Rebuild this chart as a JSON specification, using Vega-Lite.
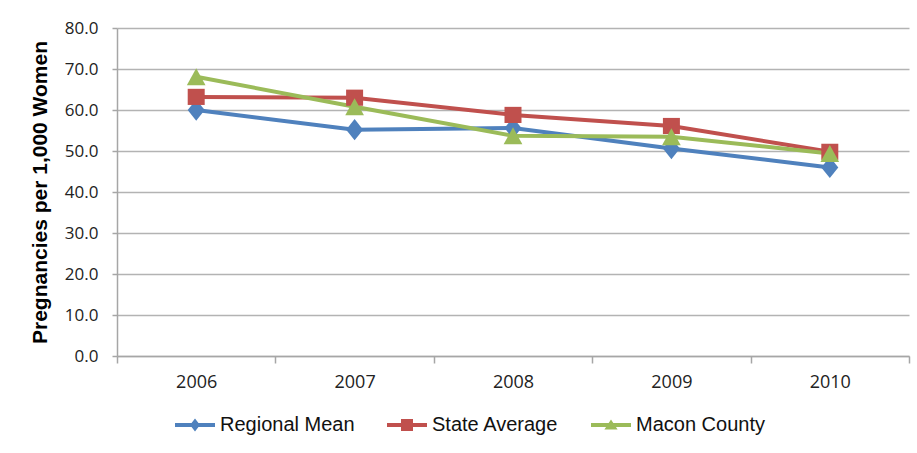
{
  "$schema": "https://vega.github.io/schema/vega-lite/v6.json",
  "autosize": {"type": "none"},
  "width": 792,
  "height": 328,
  "padding": {"left": 117, "top": 28, "right": 8, "bottom": 97},
  "background": "white",
  "config": {
    "view": {"stroke": null},
    "font": "Liberation Sans"
  },
  "data": {
    "values": [
      {"year": "2006", "series": "Regional Mean", "value": 60.0},
      {"year": "2007", "series": "Regional Mean", "value": 55.2},
      {"year": "2008", "series": "Regional Mean", "value": 55.6},
      {"year": "2009", "series": "Regional Mean", "value": 50.6},
      {"year": "2010", "series": "Regional Mean", "value": 46.0},
      {"year": "2006", "series": "State Average", "value": 63.2},
      {"year": "2007", "series": "State Average", "value": 63.0},
      {"year": "2008", "series": "State Average", "value": 58.8},
      {"year": "2009", "series": "State Average", "value": 56.1},
      {"year": "2010", "series": "State Average", "value": 49.8},
      {"year": "2006", "series": "Macon County", "value": 68.1},
      {"year": "2007", "series": "Macon County", "value": 60.8},
      {"year": "2008", "series": "Macon County", "value": 53.7},
      {"year": "2009", "series": "Macon County", "value": 53.5},
      {"year": "2010", "series": "Macon County", "value": 49.4}
    ]
  },
  "encoding": {
    "x": {
      "field": "year", "type": "ordinal",
      "scale": {"type": "band", "paddingInner": 0, "paddingOuter": 0},
      "axis": {
        "title": null, "labelAngle": 0, "tickBand": "extent",
        "domainColor": "#A6A6A6", "domainWidth": 1.5,
        "tickColor": "#A6A6A6", "tickSize": 7, "tickWidth": 1.5,
        "labelFont": "Open Sans", "labelFontSize": 18, "labelColor": "#222222",
        "labelPadding": 10, "grid": false
      }
    },
    "y": {
      "field": "value", "type": "quantitative",
      "scale": {"domain": [0, 80], "nice": false},
      "axis": {
        "title": "Pregnancies per 1,000 Women",
        "titleFont": "Liberation Sans", "titleFontSize": 21, "titleFontWeight": "bold",
        "titleColor": "#000000", "titlePadding": 14,
        "values": [0, 10, 20, 30, 40, 50, 60, 70, 80], "format": ".1f",
        "labelFont": "Open Sans", "labelFontSize": 17, "labelColor": "#222222",
        "labelPadding": 14,
        "domainColor": "#A6A6A6", "domainWidth": 1.5,
        "tickColor": "#A6A6A6", "tickSize": 5, "tickWidth": 1.5,
        "grid": true, "gridColor": "#B3B3B3", "gridWidth": 1.5
      }
    },
    "color": {
      "field": "series", "type": "nominal",
      "sort": ["Regional Mean", "State Average", "Macon County"],
      "scale": {
        "domain": ["Regional Mean", "State Average", "Macon County"],
        "range": ["#4F81BD", "#C0504D", "#9BBB59"]
      },
      "legend": {
        "title": null, "orient": "none", "direction": "horizontal",
        "legendX": 58, "legendY": 377,
        "symbolSize": 1600, "labelOffset": 5, "columnPadding": 32,
        "labelFont": "Liberation Sans", "labelFontSize": 20, "labelColor": "#111111",
        "labelLimit": 300,
        "encode": {
          "symbols": {
            "update": {
              "shape": {"signal": "datum.value === 'Regional Mean' ? 'M-1,-0.1H1V0.1H-1Z M0,-0.33L0.25,0L0,0.33L-0.25,0Z' : datum.value === 'State Average' ? 'M-1,-0.1H1V0.1H-1Z M-0.3,-0.3H0.3V0.3H-0.3Z' : 'M-1,-0.1H1V0.1H-1Z M0,-0.28L0.33,0.22H-0.33Z'"},
              "fill": {"signal": "scale('color', datum.value)"},
              "fillOpacity": {"value": 1},
              "opacity": {"value": 1},
              "strokeWidth": {"value": 0},
              "size": {"value": 1600}
            }
          }
        }
      }
    }
  },
  "layer": [
    {
      "mark": {"type": "line", "strokeWidth": 4},
      "encoding": {"detail": {"field": "series"}}
    },
    {
      "transform": [{"filter": "datum.series === 'Regional Mean'"}],
      "mark": {"type": "point", "filled": true, "opacity": 1, "shape": "M0,-1.25L1,0L0,1.25L-1,0Z", "size": 289}
    },
    {
      "transform": [{"filter": "datum.series === 'State Average'"}],
      "mark": {"type": "point", "filled": true, "opacity": 1, "shape": "M-1,-0.95H1V0.95H-1Z", "size": 289}
    },
    {
      "transform": [{"filter": "datum.series === 'Macon County'"}],
      "mark": {"type": "point", "filled": true, "opacity": 1, "shape": "M0,-1L1.1,1H-1.1Z", "size": 289}
    }
  ]
}
